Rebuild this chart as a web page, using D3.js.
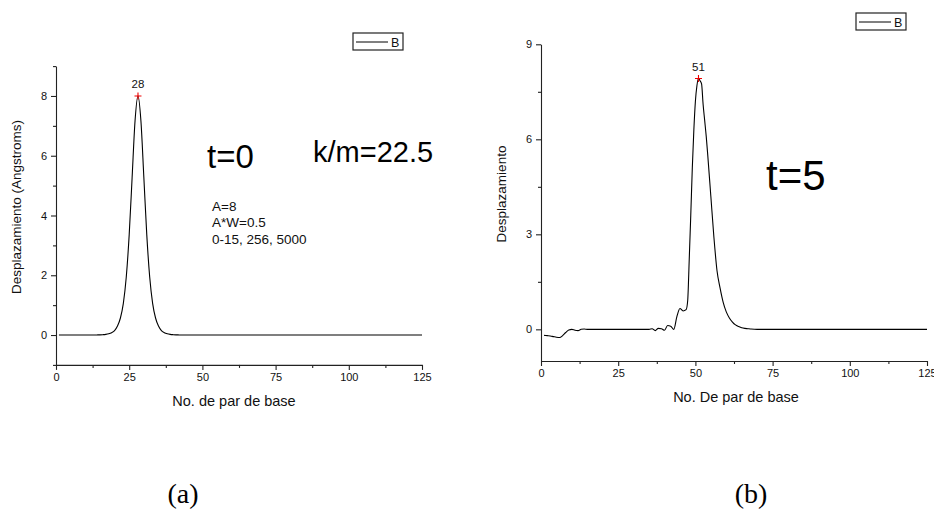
<!DOCTYPE html>
<html>
<head>
<meta charset="utf-8">
<script src="https://cdn.jsdelivr.net/npm/d3@7"></script>
<style>
body { margin: 0; background: #fff; }
svg { display: block; font-family: "Liberation Sans", Arial, sans-serif; }
</style>
</head>
<body>
<svg width="934" height="511"></svg>
<script>
// panel (a): t=0
var posA = [1,2,3,4,5,6,7,8,9,10,11,12,13,14,15,16,17,18,19,20,21,22,23,24,25,26,27,28,
  29,30,31,32,33,34,35,36,37,38,39,40,41,42,43,44,45,50,125];
var valA = [0,0,0,0,0,0,0,0,0,0,0,0,0.002,0.003,0.005,0.011,0.021,0.041,0.079,0.15,0.30,0.57,1.06,1.94,3.36,5.28,7.17,8.0,
  7.17,5.28,3.36,1.94,1.06,0.57,0.30,0.15,0.079,0.041,0.021,0.011,0.005,0.003,0.002,0.001,0,0,0];

// panel (b): t=5
var posB = [1,2,3,4,5,6,7,8,9,10,11,12,13,14,15,20,25,30,35,36,37,38,39,40,41,42,43,44,45,46,47,
  47.5,48,48.5,49,49.5,50,50.5,51,51.5,52,52.5,53,53.5,54,55,56,57,58,59,60,61,62,63,64,65,66,67,68,70,80,125];
var valB = [-0.19,-0.2,-0.21,-0.23,-0.25,-0.26,-0.2,-0.1,-0.02,0,-0.03,-0.04,0,0.01,0,0,0,0,0,0.02,-0.04,0.03,0.02,-0.03,0.12,0.1,0.0,0.4,0.66,0.58,0.62,
  0.9,2.2,3.6,5.1,6.3,7.2,7.7,7.92,7.85,7.75,7.1,6.6,6.1,5.5,4.2,2.9,1.85,1.3,0.85,0.55,0.36,0.23,0.14,0.09,0.05,0.03,0.02,0.01,0,0,0];

var xMajor = [0,25,50,75,100,125];
var xMinor = [12.5,37.5,62.5,87.5,112.5];

var panels = [
  { pos: posA, val: valA, x0: 56, x1: 422, yTop: 66.1, yBot: 364.9,
    yMajor: [0,2,4,6,8], yMinor: [-1,1,3,5,7,9],
    peak: 28, peakVal: 8.0,
    xTitle: "No. de par de base", xTitleX: 234,
    yTitle: "Desplazamiento (Angstroms)", yTitleY: 207,
    legend: { x: 353, y: 33 }, tag: "(a)", tagX: 183 },
  { pos: posB, val: valB, x0: 541, x1: 927, yTop: 44.3, yBot: 361,
    yMajor: [0,3,6,9], yMinor: [1.5,4.5,7.5],
    peak: 51, peakVal: 7.92,
    xTitle: "No. De par de base", xTitleX: 736,
    yTitle: "Desplazamiento", yTitleY: 194,
    legend: { x: 856, y: 13 }, tag: "(b)", tagX: 751 }
];

var svg = d3.select("svg");

panels.forEach(function (p) {
  var x = d3.scaleLinear().domain([0, 125]).range([p.x0, p.x1]);
  var y = d3.scaleLinear().domain([-1, 9]).range([p.yBot, p.yTop]);
  var g = svg.append("g");

  // minor ticks first, then the major axis on top
  g.append("g").attr("transform", "translate(0," + p.yBot + ")")
    .call(d3.axisBottom(x).tickValues(xMinor).tickSize(3).tickFormat(""))
    .call(function (a) { a.select(".domain").remove(); });
  g.append("g").attr("transform", "translate(" + p.x0 + ",0)")
    .call(d3.axisLeft(y).tickValues(p.yMinor).tickSize(3).tickFormat(""))
    .call(function (a) { a.select(".domain").remove(); });

  g.append("g").attr("transform", "translate(0," + p.yBot + ")")
    .call(d3.axisBottom(x).tickValues(xMajor).tickSize(5).tickSizeOuter(0).tickPadding(3));
  g.append("g").attr("transform", "translate(" + p.x0 + ",0)")
    .call(d3.axisLeft(y).tickValues(p.yMajor).tickSize(5).tickSizeOuter(0).tickPadding(4));

  g.selectAll(".tick line, .domain").attr("stroke", "#222").attr("stroke-width", 1.1);
  g.selectAll(".tick text").attr("font-size", 11).attr("fill", "#111")
    .attr("font-family", "Liberation Sans, Arial, sans-serif");

  // curve
  var pts = p.pos.map(function (d, i) { return [d, p.val[i]]; });
  g.append("path")
    .datum(pts)
    .attr("fill", "none")
    .attr("stroke", "#000")
    .attr("stroke-width", 1.1)
    .attr("d", d3.line()
      .x(function (d) { return x(d[0]); })
      .y(function (d) { return y(d[1]); })
      .curve(d3.curveMonotoneX));

  // peak marker
  var px = x(p.peak), py = y(p.peakVal);
  g.append("path")
    .attr("d", "M" + (px - 3.5) + "," + py + "h7M" + px + "," + (py - 3.5) + "v7")
    .attr("stroke", "#e00").attr("stroke-width", 1.1);
  g.append("text").attr("x", px).attr("y", py - 8)
    .attr("text-anchor", "middle").attr("font-size", 11.5).attr("fill", "#111")
    .text(p.peak);

  // axis titles
  g.append("text")
    .attr("x", p.xTitleX).attr("y", p.yBot + 41)
    .attr("text-anchor", "middle").attr("font-size", 14.5).attr("fill", "#111")
    .text(p.xTitle);
  g.append("text")
    .attr("transform", "translate(" + (p.x0 - 35) + "," + p.yTitleY + ") rotate(-90)")
    .attr("text-anchor", "middle").attr("font-size", 13.5).attr("fill", "#111")
    .text(p.yTitle);

  // legend
  var lg = g.append("g").attr("transform", "translate(" + p.legend.x + "," + p.legend.y + ")");
  lg.append("rect").attr("width", 50).attr("height", 17)
    .attr("fill", "#fff").attr("stroke", "#222").attr("stroke-width", 1.2);
  lg.append("line").attr("x1", 3).attr("x2", 35).attr("y1", 9).attr("y2", 9)
    .attr("stroke", "#000").attr("stroke-width", 1);
  lg.append("text").attr("x", 38).attr("y", 13.5).attr("font-size", 12.5).attr("fill", "#111").text("B");

  // panel tag
  svg.append("text").attr("x", p.tagX).attr("y", 503)
    .attr("text-anchor", "middle").attr("font-size", 28)
    .attr("font-family", "Liberation Serif, Times New Roman, serif")
    .text(p.tag);
});

// annotations in panel (a)
svg.append("text").attr("x", 207).attr("y", 168).attr("font-size", 33).text("t=0");
svg.append("text").attr("x", 313).attr("y", 161.5).attr("font-size", 29).text("k/m=22.5");
var notes = ["A=8", "A*W=0.5", "0-15, 256, 5000"];
svg.selectAll("text.note").data(notes).enter().append("text")
  .attr("class", "note")
  .attr("x", 212).attr("y", function (d, i) { return 210.5 + i * 16.8; })
  .attr("font-size", 13.5).attr("fill", "#111")
  .text(function (d) { return d; });

// annotation in panel (b)
svg.append("text").attr("x", 766).attr("y", 190).attr("font-size", 42).text("t=5");
</script>
</body>
</html>
